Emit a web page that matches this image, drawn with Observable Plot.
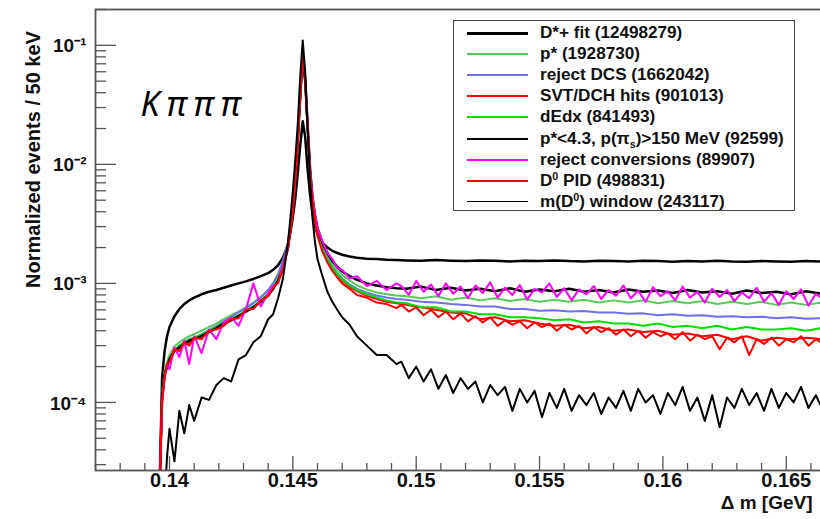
<!DOCTYPE html>
<html><head><meta charset="utf-8">
<script src="https://cdn.jsdelivr.net/npm/d3@7"></script>
<script src="https://cdn.jsdelivr.net/npm/@observablehq/plot@0.6"></script>
<style>
html,body{margin:0;padding:0;background:#fff;}
#wrap{position:relative;width:820px;height:519px;overflow:hidden;background:#fff;}
#wrap svg{max-width:none !important;height:519px !important;display:block;}
#legend{position:absolute;left:453px;top:20px;width:342px;height:191px;border:1.5px solid #444;background:#fff;box-sizing:border-box;font-family:"Liberation Sans",Arial,sans-serif;font-weight:bold;font-size:16px;color:#111;}
.row{position:absolute;left:0;height:20px;width:100%;}
.row .ln{position:absolute;left:13px;width:61px;top:9px;}
.row .tx{position:absolute;left:86px;top:0px;white-space:nowrap;line-height:19px;transform:scaleX(1.07);transform-origin:left center;}
sub,sup{font-size:10px;line-height:0;}
.kppp text{letter-spacing:7px;}
</style></head>
<body><div id="wrap"></div>
<script>
// Δm bin positions (GeV): threshold + peak region, then the tail (coarse and fine grids)
const dmPeak = [0.1396,0.1397,0.1398,0.1399,0.1400,0.1402,0.1404,0.1406,0.1408,0.1410,0.1413,0.1416,0.1419,0.1422,0.1425,0.1428,0.1431,0.1434,0.1437,0.1440,0.1442,0.1444,0.1446,0.1448,0.1449,0.1450,0.1451,0.1452,0.1453,0.1454,0.1455,0.1456,0.1457,0.1458,0.1459,0.1460,0.1462,0.1464,0.1466,0.1468,0.1470,0.1473,0.1476,0.1480,0.1484,0.1488,0.1492];
const dmTail = [0.1496,0.1502,0.1508,0.1514,0.1520,0.1526,0.1532,0.1538,0.1544,0.1550,0.1556,0.1562,0.1568,0.1574,0.1580,0.1586,0.1592,0.1598,0.1604,0.1610,0.1616,0.1622,0.1628,0.1634,0.1640,0.1646,0.1652,0.1658,0.1664,0.1670];
const dmTailFine = [0.1494,0.1497,0.1500,0.1503,0.1506,0.1509,0.1512,0.1515,0.1518,0.1521,0.1524,0.1527,0.1530,0.1533,0.1536,0.1539,0.1542,0.1545,0.1548,0.1551,0.1554,0.1557,0.1560,0.1563,0.1566,0.1569,0.1572,0.1575,0.1578,0.1581,0.1584,0.1587,0.1590,0.1593,0.1596,0.1599,0.1602,0.1605,0.1608,0.1611,0.1614,0.1617,0.1620,0.1623,0.1626,0.1629,0.1632,0.1635,0.1638,0.1641,0.1644,0.1647,0.1650,0.1653,0.1656,0.1659,0.1662,0.1665,0.1668,0.1671];

const fitVals = [2e-5,1.6e-4,2.7e-4,3.6e-4,4.3e-4,5.3e-4,6.1e-4,6.7e-4,7.2e-4,7.6e-4,8.1e-4,8.5e-4,8.8e-4,9.2e-4,9.6e-4,1.0e-3,1.04e-3,1.09e-3,1.15e-3,1.22e-3,1.3e-3,1.42e-3,1.65e-3,2.1e-3,2.7e-3,3.6e-3,5.2e-3,8.5e-3,0.0145,0.023,0.017,9e-3,5.5e-3,3.8e-3,3.0e-3,2.6e-3,2.2e-3,2.0e-3,1.88e-3,1.8e-3,1.74e-3,1.68e-3,1.64e-3,1.61e-3,1.6e-3,1.58e-3,1.57e-3,
 1.56e-3,1.55e-3,1.57e-3,1.55e-3,1.54e-3,1.56e-3,1.55e-3,1.53e-3,1.55e-3,1.54e-3,1.56e-3,1.54e-3,1.53e-3,1.55e-3,1.54e-3,1.53e-3,1.55e-3,1.54e-3,1.52e-3,1.54e-3,1.53e-3,1.55e-3,1.53e-3,1.52e-3,1.54e-3,1.53e-3,1.52e-3,1.54e-3,1.53e-3,1.53e-3];

const pstarVals = [2e-5,1.2e-4,1.85e-4,2.2e-4,2.5e-4,2.95e-4,3.2e-4,3.4e-4,3.6e-4,3.75e-4,4.0e-4,4.3e-4,4.6e-4,5.0e-4,5.4e-4,5.8e-4,6.3e-4,6.9e-4,7.7e-4,8.8e-4,1.0e-3,1.17e-3,1.5e-3,2.15e-3,3.0e-3,4.4e-3,7.8e-3,0.016,0.037,0.078,0.049,0.02,8.8e-3,5.1e-3,3.6e-3,2.85e-3,2.1e-3,1.72e-3,1.48e-3,1.3e-3,1.18e-3,1.06e-3,9.6e-4,8.9e-4,8.4e-4,8.1e-4,7.9e-4,
 7.8e-4,7.5e-4,7.8e-4,7.3e-4,7.6e-4,7.2e-4,7.5e-4,7.1e-4,7.4e-4,7.0e-4,7.3e-4,7.0e-4,7.3e-4,6.9e-4,7.2e-4,6.9e-4,7.2e-4,6.8e-4,7.1e-4,6.8e-4,7.1e-4,6.7e-4,7.0e-4,6.7e-4,7.0e-4,6.6e-4,6.9e-4,6.6e-4,6.9e-4,6.8e-4];

const dcsVals = [2e-5,1.1e-4,1.75e-4,2.05e-4,2.35e-4,2.75e-4,3.0e-4,3.2e-4,3.4e-4,3.5e-4,3.75e-4,4.05e-4,4.4e-4,4.8e-4,5.2e-4,5.7e-4,6.2e-4,6.8e-4,7.6e-4,8.8e-4,1.0e-3,1.2e-3,1.55e-3,2.2e-3,3.0e-3,4.4e-3,7.8e-3,0.016,0.037,0.076,0.048,0.02,8.7e-3,5.0e-3,3.5e-3,2.75e-3,2.0e-3,1.62e-3,1.38e-3,1.22e-3,1.1e-3,9.8e-4,9.0e-4,8.4e-4,7.9e-4,7.6e-4,7.4e-4,
 7.3e-4,7.0e-4,6.9e-4,6.7e-4,6.6e-4,6.4e-4,6.4e-4,6.1e-4,6.1e-4,5.9e-4,5.95e-4,5.8e-4,5.85e-4,5.7e-4,5.7e-4,5.55e-4,5.6e-4,5.4e-4,5.5e-4,5.35e-4,5.4e-4,5.25e-4,5.3e-4,5.2e-4,5.25e-4,5.1e-4,5.2e-4,5.05e-4,5.1e-4,5.1e-4];

const svtVals = [2e-5,1.1e-4,1.7e-4,2.0e-4,2.3e-4,2.7e-4,2.9e-4,3.2e-4,3.1e-4,3.5e-4,3.5e-4,3.9e-4,4.3e-4,4.5e-4,5.0e-4,5.2e-4,5.9e-4,6.2e-4,7.1e-4,7.9e-4,9.1e-4,1.05e-3,1.35e-3,2.0e-3,2.8e-3,4.2e-3,7.5e-3,0.016,0.038,0.082,0.05,0.02,8.5e-3,4.8e-3,3.3e-3,2.6e-3,1.9e-3,1.55e-3,1.32e-3,1.17e-3,1.06e-3,9.4e-4,8.6e-4,7.9e-4,7.4e-4,7.0e-4,6.8e-4,
 6.6e-4,6.3e-4,6.0e-4,5.7e-4,5.6e-4,5.0e-4,5.2e-4,4.8e-4,4.9e-4,4.6e-4,4.4e-4,4.5e-4,4.2e-4,4.3e-4,4.0e-4,4.1e-4,3.9e-4,4.0e-4,3.7e-4,3.8e-4,3.6e-4,3.7e-4,3.4e-4,3.6e-4,3.3e-4,3.5e-4,3.4e-4,3.5e-4,3.4e-4,3.4e-4];

const dedxVals = [2e-5,1.1e-4,1.7e-4,2.0e-4,2.35e-4,2.7e-4,3.0e-4,3.15e-4,3.35e-4,3.5e-4,3.7e-4,4.0e-4,4.3e-4,4.7e-4,5.0e-4,5.4e-4,5.9e-4,6.4e-4,7.2e-4,8.2e-4,9.3e-4,1.1e-3,1.4e-3,2.05e-3,2.9e-3,4.3e-3,7.6e-3,0.016,0.038,0.08,0.05,0.02,8.6e-3,4.9e-3,3.4e-3,2.65e-3,1.95e-3,1.58e-3,1.35e-3,1.2e-3,1.08e-3,9.6e-4,8.8e-4,8.1e-4,7.6e-4,7.2e-4,6.9e-4,
 6.8e-4,6.3e-4,6.3e-4,5.8e-4,5.8e-4,5.5e-4,5.5e-4,5.2e-4,5.2e-4,5.1e-4,4.9e-4,5.0e-4,4.7e-4,4.8e-4,4.6e-4,4.6e-4,4.4e-4,4.6e-4,4.3e-4,4.4e-4,4.2e-4,4.4e-4,4.1e-4,4.3e-4,4.1e-4,4.1e-4,4.2e-4,4.0e-4,4.2e-4,4.1e-4];

const pcutVals = [2e-5,1.1e-4,1.7e-4,2.0e-4,2.3e-4,2.7e-4,2.9e-4,3.1e-4,3.3e-4,3.4e-4,3.6e-4,3.9e-4,4.2e-4,4.6e-4,4.9e-4,5.3e-4,5.8e-4,6.3e-4,7.0e-4,8.0e-4,9.0e-4,1.05e-3,1.35e-3,2.0e-3,2.8e-3,4.2e-3,7.5e-3,0.016,0.038,0.085,0.052,0.021,9e-3,5.2e-3,3.7e-3,2.9e-3,2.2e-3,1.8e-3,1.55e-3,1.38e-3,1.26e-3,1.15e-3,1.07e-3,1.0e-3,9.6e-4,9.3e-4,9.1e-4,
 9.0e-4,9.4e-4,8.8e-4,9.2e-4,8.7e-4,9.0e-4,8.6e-4,9.1e-4,8.5e-4,8.9e-4,8.6e-4,9.0e-4,8.5e-4,8.8e-4,8.4e-4,8.9e-4,8.5e-4,8.7e-4,8.3e-4,8.8e-4,8.4e-4,8.6e-4,8.2e-4,8.7e-4,8.3e-4,8.5e-4,8.1e-4,8.6e-4,8.2e-4,8.4e-4];

const convVals = [2e-5,1.0e-4,1.6e-4,2.1e-4,1.9e-4,2.9e-4,2.4e-4,3.3e-4,2.1e-4,3.6e-4,2.6e-4,4.1e-4,3.4e-4,4.7e-4,5.2e-4,4.4e-4,6.1e-4,1.0e-3,6.4e-4,8.3e-4,9.5e-4,1.0e-3,1.4e-3,2.0e-3,2.9e-3,4.3e-3,7.7e-3,0.017,0.04,0.088,0.055,0.022,9.2e-3,5.3e-3,3.8e-3,2.9e-3,2.25e-3,1.8e-3,1.6e-3,1.35e-3,1.3e-3,1.1e-3,1.15e-3,9.5e-4,1.05e-3,8.8e-4,1.0e-3,
 9.5e-4,8.0e-4,1.05e-3,8.5e-4,9.8e-4,7.8e-4,1.0e-3,8.2e-4,9.4e-4,7.5e-4,9.6e-4,8.3e-4,1.02e-3,7.6e-4,9.2e-4,8.0e-4,9.7e-4,7.3e-4,9.0e-4,8.4e-4,
 1.0e-3,7.7e-4,9.1e-4,7.2e-4,8.9e-4,8.1e-4,9.5e-4,7.4e-4,8.8e-4,7.9e-4,9.6e-4,7.5e-4,8.7e-4,7.0e-4,9.3e-4,7.8e-4,8.6e-4,7.2e-4,9.4e-4,7.6e-4,
 8.5e-4,6.9e-4,9.0e-4,7.7e-4,8.8e-4,7.1e-4,8.4e-4,7.5e-4,9.2e-4,7.0e-4,8.3e-4,6.6e-4,8.6e-4,7.4e-4,8.9e-4,6.5e-4,8.2e-4,7.3e-4,8.0e-4,7.6e-4];

const pidVals = [2e-5,1.0e-4,1.6e-4,2.1e-4,2.2e-4,2.8e-4,2.7e-4,3.2e-4,3.0e-4,3.5e-4,3.4e-4,4.0e-4,4.1e-4,4.4e-4,5.0e-4,5.1e-4,6.0e-4,6.1e-4,7.2e-4,7.8e-4,9.2e-4,1.02e-3,1.3e-3,1.95e-3,2.7e-3,4.0e-3,7.2e-3,0.015,0.036,0.08,0.052,0.021,8.8e-3,4.9e-3,3.4e-3,2.5e-3,1.85e-3,1.5e-3,1.28e-3,1.12e-3,1.0e-3,9.0e-4,8.0e-4,7.6e-4,6.9e-4,6.7e-4,6.2e-4,
 6.6e-4,5.8e-4,6.3e-4,5.4e-4,6.0e-4,5.2e-4,5.8e-4,5.0e-4,5.6e-4,4.8e-4,5.3e-4,4.7e-4,5.2e-4,4.4e-4,4.9e-4,4.5e-4,4.8e-4,4.2e-4,4.7e-4,4.3e-4,
 4.6e-4,4.0e-4,4.5e-4,4.1e-4,4.4e-4,3.8e-4,4.3e-4,3.9e-4,4.2e-4,3.7e-4,4.1e-4,3.6e-4,4.0e-4,3.5e-4,3.9e-4,3.6e-4,3.8e-4,3.4e-4,3.9e-4,3.3e-4,
 3.7e-4,3.4e-4,3.6e-4,2.8e-4,3.5e-4,3.2e-4,3.6e-4,2.5e-4,3.4e-4,3.1e-4,3.5e-4,3.0e-4,3.4e-4,3.2e-4,3.6e-4,3.0e-4,3.4e-4,3.1e-4,3.5e-4,3.2e-4];

const windowVals = [1e-5,1e-5,1.5e-5,3.5e-5,6e-5,3.2e-5,8.5e-5,5.5e-5,9.5e-5,7e-5,1.1e-4,1.05e-4,1.4e-4,1.6e-4,1.5e-4,2.3e-4,2.5e-4,3.2e-4,3.6e-4,5.0e-4,5.5e-4,7.5e-4,1.1e-3,2.2e-3,3.5e-3,6e-3,0.011,0.022,0.055,0.11,0.06,0.02,7e-3,3.5e-3,2.2e-3,1.6e-3,1.15e-3,8.5e-4,7.0e-4,6.0e-4,5.2e-4,4.5e-4,3.6e-4,3.0e-4,2.5e-4,2.5e-4,2.1e-4,
 2.2e-4,1.6e-4,2.0e-4,1.5e-4,1.9e-4,1.3e-4,1.7e-4,1.2e-4,1.6e-4,1.3e-4,1.5e-4,1.0e-4,1.4e-4,1.15e-4,1.35e-4,8.5e-5,1.3e-4,1.0e-4,1.25e-4,7.5e-5,
 1.2e-4,9e-5,1.3e-4,8.5e-5,1.15e-4,9.5e-5,1.2e-4,8e-5,1.1e-4,9e-5,1.25e-4,8.5e-5,1.3e-4,1.0e-4,1.15e-4,8e-5,1.2e-4,9.5e-5,1.35e-4,8.5e-5,
 1.1e-4,7e-5,1.15e-4,6.2e-5,1.1e-4,9e-5,1.3e-4,9.5e-5,1.2e-4,8.5e-5,1.3e-4,9e-5,1.2e-4,1.0e-4,1.35e-4,9e-5,1.15e-4,8.5e-5,1.2e-4,1.0e-4];

const seriesLabels = ["D*+ fit (12498279)","p* (1928730)","reject DCS (1662042)","SVT/DCH hits (901013)","dEdx (841493)","p*<4.3, p(π<sub>s</sub>)>150 MeV (92599)","reject conversions (89907)","D<sup>0</sup> PID (498831)","m(D<sup>0</sup>) window (243117)"];
const seriesColors = ["#000000","#55cc55","#6f6ff0","#ff0000","#00dd00","#000000","#ff00ff","#ff0000","#000000"];
const seriesWidths = [2.5,2,2,2,2,2.5,2,2,1.5];
const lineWidths = [2.5,2,2,2,2,2.5,2,2,2];
const seriesVals = [fitVals,pstarVals,dcsVals,svtVals,dedxVals,pcutVals,convVals,pidVals,windowVals];
const seriesTail = [dmTail,dmTail,dmTail,dmTail,dmTail,dmTail,dmTailFine,dmTailFine,dmTailFine];

const xMajor = [0.14,0.145,0.15,0.155,0.16,0.165];
const xMajorLabels = ["0.14","0.145","0.15","0.155","0.16","0.165"];
const xMinor = [0.137,0.138,0.139,0.141,0.142,0.143,0.144,0.146,0.147,0.148,0.149,0.151,0.152,0.153,0.154,0.156,0.157,0.158,0.159,0.161,0.162,0.163,0.164,0.166];
const yMajor = [1e-4,1e-3,1e-2,1e-1];
const yMajorLabels = ["10\u207B\u2074","10\u207B\u00B3","10\u207B\u00B2","10\u207B\u00B9"];
const yMinor = [3e-5,4e-5,5e-5,6e-5,7e-5,8e-5,9e-5,2e-4,3e-4,4e-4,5e-4,6e-4,7e-4,8e-4,9e-4,2e-3,3e-3,4e-3,5e-3,6e-3,7e-3,8e-3,9e-3,2e-2,3e-2,4e-2,5e-2,6e-2,7e-2,8e-2,9e-2,2e-1];

const W = 840, H = 519, mL = 95, mR = 0, mT = 9, mB = 49;
const pw = W - mL - mR, ph = H - mT - mB;
const FONT = "'Liberation Sans', Arial, sans-serif";

const lineMarks = seriesVals.map((vals, k) => {
  const xs = dmPeak.concat(seriesTail[k]);
  return Plot.line(xs.map((d, i) => ({dm: d, v: vals[i]})), {
    x: "dm", y: "v", stroke: seriesColors[k], strokeWidth: lineWidths[k], clip: true
  });
});

const chart = Plot.plot({
  width: W, height: H,
  marginLeft: mL, marginRight: mR, marginTop: mT, marginBottom: mB,
  style: {fontFamily: FONT, fontWeight: "bold", background: "transparent", color: "#111", maxWidth: "none"},
  x: {domain: [0.137, 0.1672], axis: null},
  y: {type: "log", domain: [2.68e-5, 0.2], axis: null},
  marks: [
    ...lineMarks,
    Plot.tickX(xMajor, {x: d => d, insetTop: ph - 14, stroke: "#555", strokeWidth: 1.3}),
    Plot.tickX(xMinor, {x: d => d, insetTop: ph - 7, stroke: "#555", strokeWidth: 1.3}),
    Plot.tickY(yMajor, {y: d => d, insetRight: pw - 21, stroke: "#555", strokeWidth: 1.3}),
    Plot.tickY(yMinor, {y: d => d, insetRight: pw - 11, stroke: "#555", strokeWidth: 1.3}),
    Plot.frame({stroke: "#555", strokeWidth: 1.8}),
    Plot.text(xMajor, {x: d => d, frameAnchor: "bottom", text: (d, i) => xMajorLabels[i], dy: 16, fontSize: 20, fontWeight: "bold", textAnchor: "middle", fill: "#111"}),
    Plot.text(yMajor, {y: d => d, frameAnchor: "left", text: (d, i) => yMajorLabels[i], dx: -9, dy: 1, fontSize: 19, fontWeight: "bold", textAnchor: "end", fill: "#111"}),
    Plot.text(["Normalized events / 50 keV"], {frameAnchor: "top-left", dx: -70, dy: 150, rotate: -90, fontSize: 20, fontWeight: "bold", textAnchor: "middle", fill: "#111"}),
    Plot.text(["\u0394 m [GeV]"], {frameAnchor: "bottom-right", dx: -28, dy: 38, fontSize: 19, fontWeight: "bold", textAnchor: "end", fill: "#111"}),
    Plot.text(["K\u03C0\u03C0\u03C0"], {frameAnchor: "top-left", dx: 45, dy: 82, fontSize: 34, fontStyle: "italic", fontWeight: "normal", fontFamily: "'Noto Sans', sans-serif", textAnchor: "start", fill: "#000", className: "kppp"})
  ]
});

const wrap = document.getElementById("wrap");
wrap.appendChild(chart);

const legend = document.createElement("div");
legend.id = "legend";
seriesLabels.forEach((lab, i) => {
  const row = document.createElement("div");
  row.className = "row";
  row.style.top = (2 + i * 21.1) + "px";
  const ln = document.createElement("div");
  ln.className = "ln";
  ln.style.height = seriesWidths[i] + "px";
  ln.style.background = seriesColors[i];
  const tx = document.createElement("div");
  tx.className = "tx";
  tx.innerHTML = lab;
  row.appendChild(ln); row.appendChild(tx);
  legend.appendChild(row);
});
wrap.appendChild(legend);
</script>
</body></html>
